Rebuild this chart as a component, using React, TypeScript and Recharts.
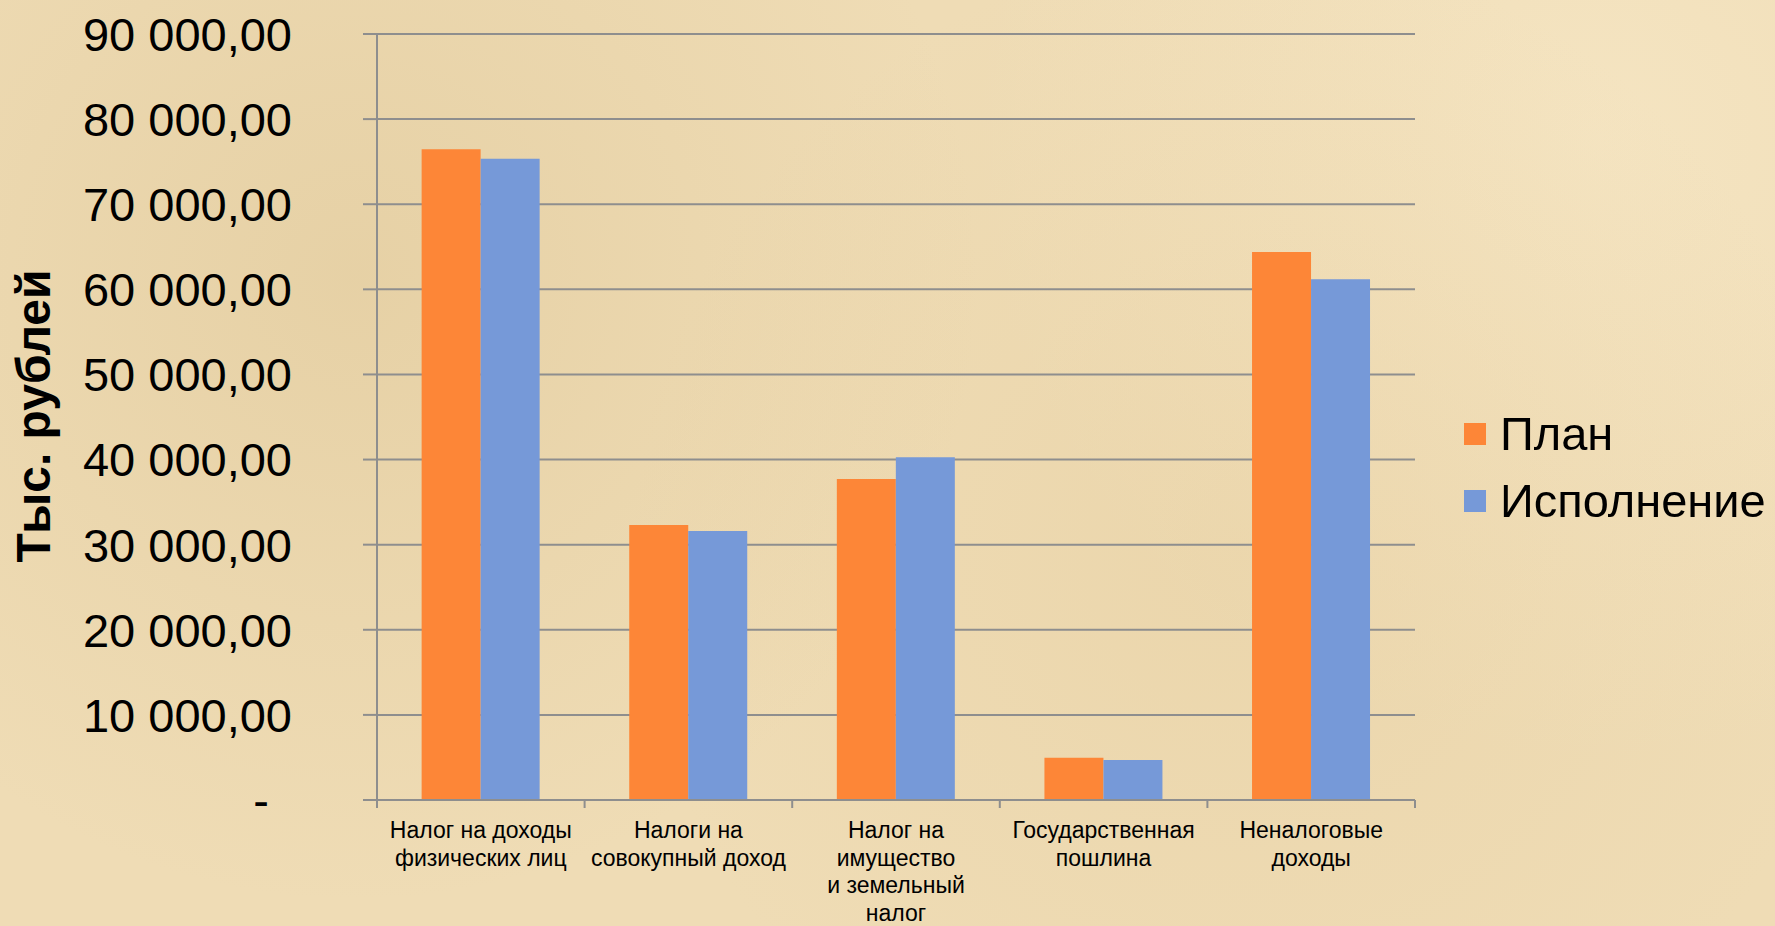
import { Bar, BarChart, CartesianGrid, Legend, XAxis, YAxis } from "recharts"

const categories = [
  "Налог на доходы\nфизических лиц",
  "Налоги на\nсовокупный доход",
  "Налог на\nимущество\nи земельный\nналог",
  "Государственная\nпошлина",
  "Неналоговые\nдоходы",
]
const plan = [76450, 32310, 37720, 4970, 64390]
const fact = [75350, 31610, 40270, 4700, 61180]
const yTicks = [0, 10000, 20000, 30000, 40000, 50000, 60000, 70000, 80000, 90000]

const dados = categories.map((c, i) => ({ cat: c, plan: plan[i], fact: fact[i] }))

const FONT = "'Liberation Sans', Arial, sans-serif"
const GRID = "#8e8e8e"
const ORANGE = "#fd8637"
const BLUE = "#7699d8"

function fmt(v: number) {
  if (v === 0) return "-"
  const s = Math.round(v).toString().replace(/\B(?=(\d{3})+(?!\d))/g, " ")
  return `${s},00`
}

function YTick(props: any) {
  const { x, y, payload } = props
  const zero = payload.value === 0
  return (
    <text
      x={zero ? x - 23 : x}
      y={y}
      dy="0.36em"
      textAnchor="end"
      fill="#000"
      style={{ fontFamily: FONT, fontSize: 47 }}
    >
      {fmt(payload.value)}
    </text>
  )
}

function XTick(props: any) {
  const { x, y, payload, index, visibleTicksCount } = props
  const half = payload.offset ?? 0
  const lines = String(payload.value).split("\n")
  return (
    <g>
      <line x1={x - half} x2={x - half} y1={y} y2={y + 8} stroke={GRID} strokeWidth={2} />
      {index === visibleTicksCount - 1 && (
        <line x1={x + half} x2={x + half} y1={y} y2={y + 8} stroke={GRID} strokeWidth={2} />
      )}
      {lines.map((l, i) => (
        <text
          key={i}
          x={x}
          y={y + 30 + i * 27.5}
          dy="0.36em"
          textAnchor="middle"
          fill="#000"
          style={{ fontFamily: FONT, fontSize: 23 }}
        >
          {l}
        </text>
      ))}
    </g>
  )
}

function YLabel(props: any) {
  const vb = props.viewBox
  const cx = 50
  const cy = vb.y + vb.height / 2 - 1
  return (
    <text
      x={cx}
      y={cy}
      transform={`rotate(-90, ${cx}, ${cy})`}
      textAnchor="middle"
      fill="#000"
      style={{ fontFamily: FONT, fontSize: 48, fontWeight: 700 }}
    >
      Тыс. рублей
    </text>
  )
}

function Legenda() {
  const itens = [
    { nome: "План", cor: ORANGE },
    { nome: "Исполнение", cor: BLUE },
  ]
  return (
    <div>
      {itens.map((it) => (
        <div key={it.nome} style={{ display: "flex", alignItems: "center", height: 67 }}>
          <span style={{ width: 22, height: 22, background: it.cor, marginRight: 14 }} />
          <span style={{ fontFamily: FONT, fontSize: 47, color: "#000" }}>{it.nome}</span>
        </div>
      ))}
    </div>
  )
}

export default function App() {
  return (
    <div
      style={{
        position: "fixed",
        left: 0,
        top: 0,
        width: 1775,
        height: 926,
        background:
          "radial-gradient(circle at 20% 30%, rgba(214,188,136,0.35), transparent 40%)," +
          "radial-gradient(circle at 70% 60%, rgba(226,200,150,0.3), transparent 45%)," +
          "radial-gradient(circle at 90% 15%, rgba(250,236,205,0.5), transparent 35%)," +
          "#efdcb5",
      }}
    >
      <BarChart
        width={1775}
        height={926}
        data={dados}
        margin={{ top: 34, right: 360, bottom: 6, left: 0 }}
        barCategoryGap="21.5%"
        barGap={0}
      >
        <CartesianGrid stroke={GRID} strokeWidth={2} vertical={false} />
        <XAxis
          dataKey="cat"
          height={120}
          tickSize={0}
          tickMargin={0}
          tickLine={false}
          axisLine={{ stroke: GRID, strokeWidth: 2 }}
          tick={<XTick />}
          interval={0}
        />
        <YAxis
          width={377}
          domain={[0, 90000]}
          ticks={yTicks}
          interval={0}
          tickSize={14}
          tickMargin={71}
          tickLine={{ stroke: GRID, strokeWidth: 2 }}
          axisLine={{ stroke: GRID, strokeWidth: 2 }}
          tick={<YTick />}
          label={{ content: <YLabel /> }}
        />
        <Legend
          layout="vertical"
          align="center"
          verticalAlign="middle"
          content={<Legenda />}
          wrapperStyle={{ position: "absolute", left: 1464, top: 400, width: 320, height: 134 }}
        />
        <Bar dataKey="plan" name="План" fill={ORANGE} isAnimationActive={false} />
        <Bar dataKey="fact" name="Исполнение" fill={BLUE} isAnimationActive={false} />
      </BarChart>
    </div>
  )
}
